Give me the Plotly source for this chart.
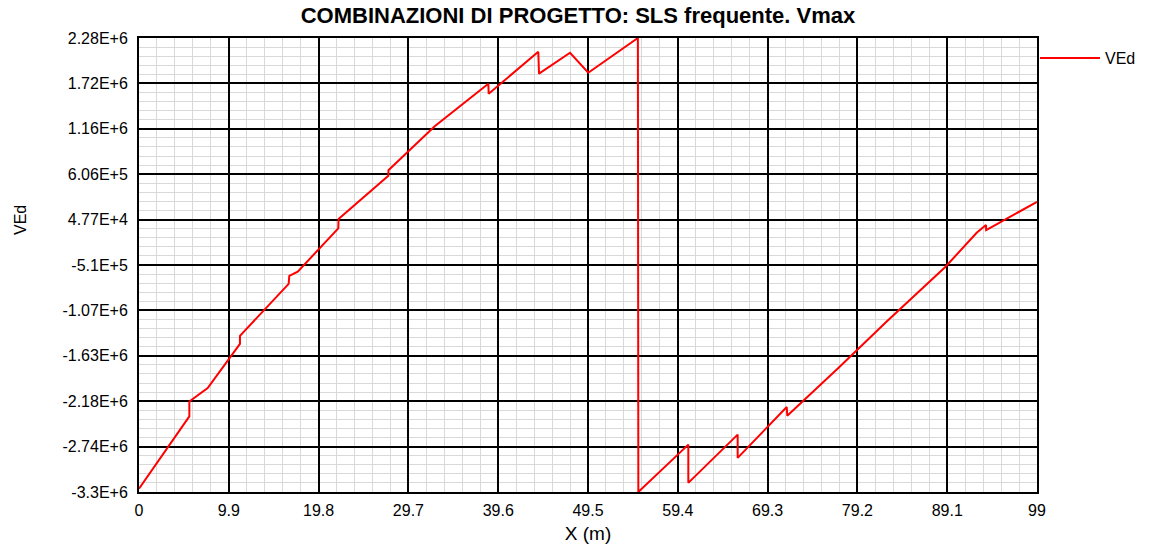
import numpy as np
import plotly.graph_objects as go

# Shear envelope VEd along the member (X in m, VEd in N)
x_m = [0.0, 5.55, 5.55, 7.57, 11.13, 11.13, 16.50, 16.57, 17.50, 21.97, 22.00,
       27.49, 27.50, 32.6, 38.51, 38.55, 44.02, 44.10, 47.52, 49.53, 55.00,
       55.05, 60.56, 60.56, 66.00, 66.00, 71.41, 71.47, 77.10, 82.43, 88.86,
       92.35, 93.38, 93.40, 99.00]
ved = [-3.26e6, -2.371e6, -2.187e6, -2.022e6, -1.479e6, -1.381e6, -0.743e6,
       -0.645e6, -0.592e6, -0.060e6, 0.054e6, 0.585e6, 0.655e6, 1.195e6,
       1.718e6, 1.595e6, 2.110e6, 1.841e6, 2.098e6, 1.853e6, 2.2797e6,
       -3.3e6, -2.718e6, -3.188e6, -2.595e6, -2.881e6, -2.2555e6, -2.362e6,
       -1.777e6, -1.2057e6, -0.5386e6, -0.1142e6, -0.0198e6, -0.081e6,
       0.266e6]

y_min, y_max = -3.3003e6, 2.2797e6
y_ticktext = ["-3.3E+6", "-2.74E+6", "-2.18E+6", "-1.63E+6", "-1.07E+6",
              "-5.1E+5", "4.77E+4", "6.06E+5", "1.16E+6", "1.72E+6", "2.28E+6"]
x_ticktext = ["0", "9.9", "19.8", "29.7", "39.6", "49.5", "59.4", "69.3",
              "79.2", "89.1", "99"]

y_ticks = np.linspace(y_min, y_max, len(y_ticktext))
x_ticks = np.linspace(0, 99, len(x_ticktext))

FONT = "Liberation Sans, Arial, sans-serif"
W, H = 1149, 552

fig = go.Figure()
fig.add_trace(go.Scatter(x=x_m, y=ved, mode="lines", name="VEd",
                         line=dict(color="#ff0000", width=2)))

fig.update_layout(
    width=W, height=H,
    margin=dict(l=139, r=112, t=38, b=60, autoexpand=False),
    paper_bgcolor="white", plot_bgcolor="white",
    font=dict(family=FONT, size=16, color="black"),
    title=dict(text="<b>COMBINAZIONI DI PROGETTO: SLS frequente. Vmax</b>",
               x=578 / W, xanchor="center", y=1 - 15 / H,
               yanchor="middle", font=dict(size=22)),
    showlegend=True,
    legend=dict(xref="container", yref="container",
                x=1035 / W, y=1 - 41 / H, xanchor="left", yanchor="top",
                bgcolor="rgba(0,0,0,0)", itemwidth=60,
                font=dict(size=16)),
    annotations=[dict(text="VEd", textangle=-90, xref="paper", yref="paper",
                      x=-119 / 898, y=(492 - 220) / 454, xanchor="center",
                      yanchor="middle", showarrow=False,
                      font=dict(size=16))],
)

fig.update_xaxes(
    range=[0, 99], tickmode="array", tickvals=x_ticks, ticktext=x_ticktext,
    showgrid=True, gridcolor="black", gridwidth=2,
    showline=True, linecolor="black", linewidth=2, mirror=True,
    zeroline=False, ticks="", ticklabelstandoff=3, automargin=False,
    title=dict(text="X (m)", standoff=8),
    minor=dict(tickmode="linear", tick0=0, dtick=9.9 / 5, showgrid=True,
               gridcolor="#d9d9d9", gridwidth=1),
)
fig.update_yaxes(
    range=[y_min, y_max], tickmode="array", tickvals=y_ticks,
    ticktext=y_ticktext,
    showgrid=True, gridcolor="black", gridwidth=2,
    showline=True, linecolor="black", linewidth=2, mirror=True,
    zeroline=False, ticks="", ticklabelstandoff=6, automargin=False,
    minor=dict(tickmode="linear", tick0=y_min, dtick=(y_max - y_min) / 50,
               showgrid=True, gridcolor="#d9d9d9", gridwidth=1),
)

fig.write_html("out.html")
